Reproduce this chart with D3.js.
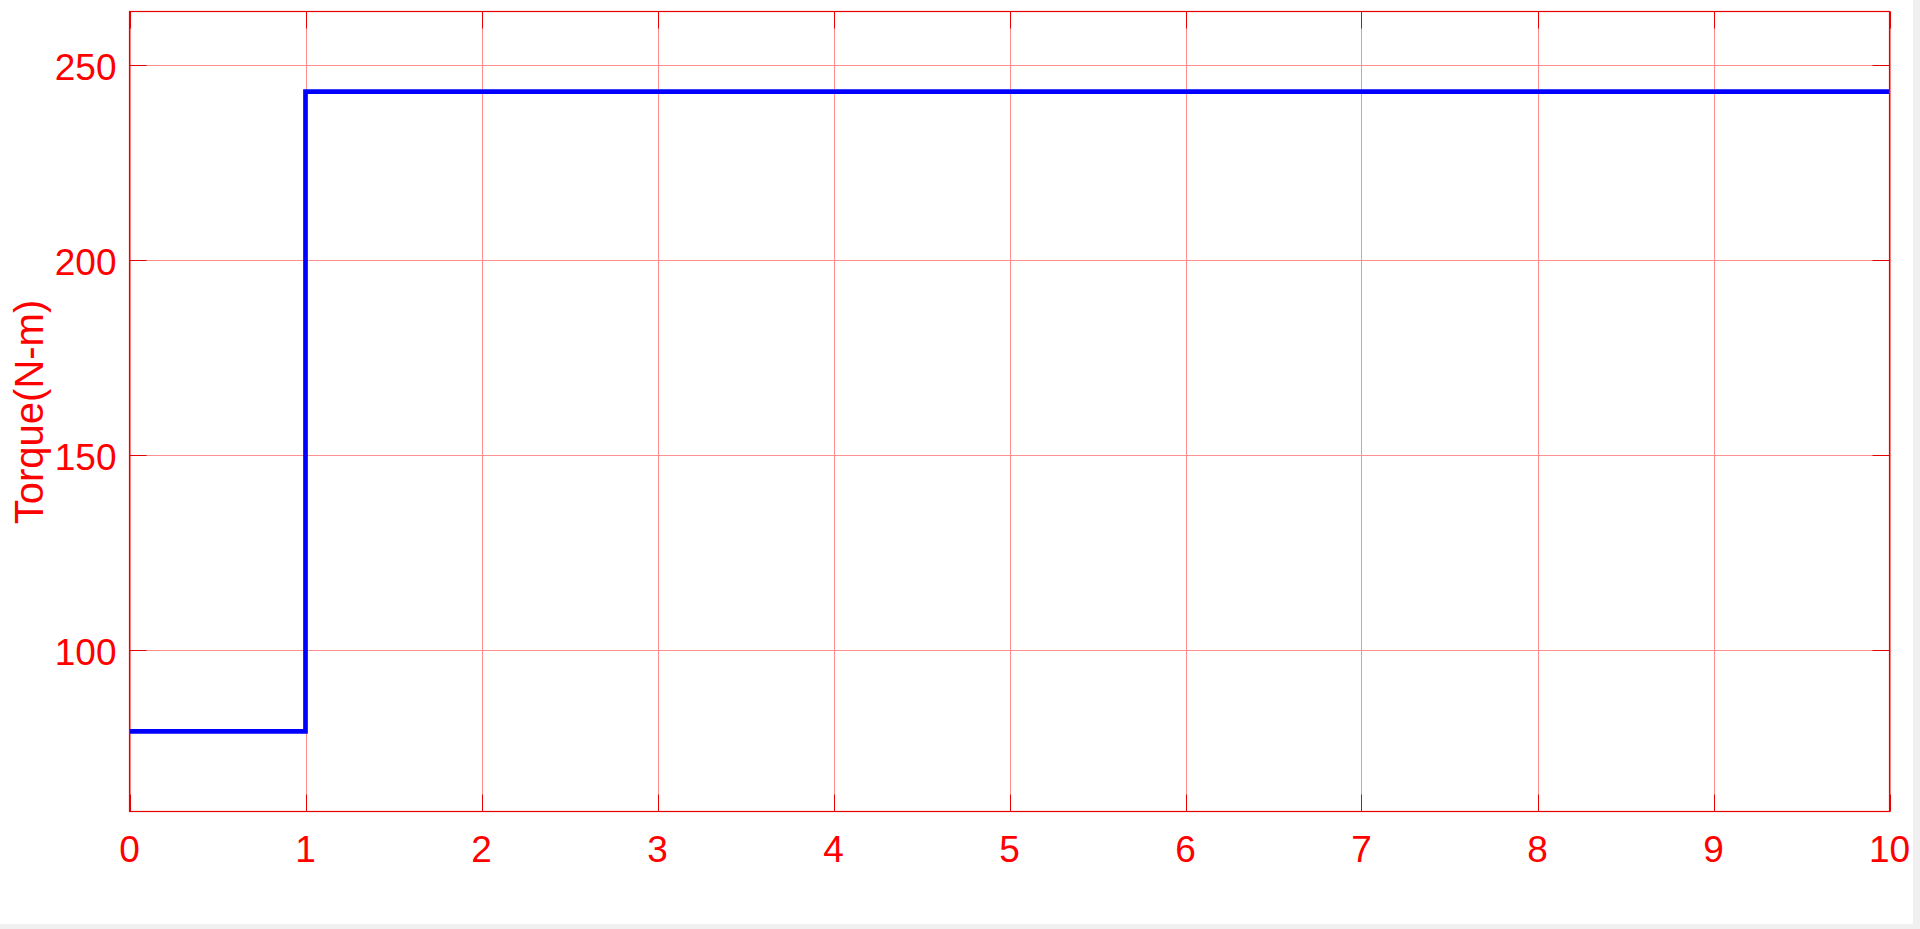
<!DOCTYPE html>
<html>
<head>
<meta charset="utf-8">
<script src="https://cdn.jsdelivr.net/npm/d3@7"></script>
<style>
html,body{margin:0;padding:0;background:#f0f0f0;overflow:hidden;}
svg{display:block;}
</style>
</head>
<body>
<svg id="chart" width="1920" height="929"></svg>
<script>
const timeValues = [0, 1, 1, 10];
const torqueValues = [79.2, 79.2, 243.1, 243.1];
const xTicks = [0,1,2,3,4,5,6,7,8,9,10];
const yTicks = [100,150,200,250];
const xDomain = [0, 10];
const yDomain = [58.7, 263.6];
const yLabel = "Torque(N-m)";

const svg = d3.select("#chart");
svg.append("rect").attr("x",0).attr("y",0).attr("width",1913).attr("height",924).attr("fill","#ffffff");

const L=129.5, R=1889.5, T=11.5, B=811.5;
const x = d3.scaleLinear().domain(xDomain).range([L,R]);
const y = d3.scaleLinear().domain(yDomain).range([B,T]);

const grid = svg.append("g");
grid.selectAll(".vg").data(xTicks).join("line")
  .attr("x1",d=>Math.round(x(d))+0.5).attr("x2",d=>Math.round(x(d))+0.5)
  .attr("y1",T).attr("y2",B).attr("stroke","#ff9090").attr("stroke-width",1);
grid.selectAll(".hg").data(yTicks).join("line")
  .attr("y1",d=>Math.round(y(d))+0.5).attr("y2",d=>Math.round(y(d))+0.5)
  .attr("x1",L).attr("x2",R).attr("stroke","#ff9090").attr("stroke-width",1);

// ticks (inside, on all four sides)
const tl = 17;
const tg = svg.append("g").attr("stroke","#e60000").attr("stroke-width",1);
xTicks.forEach(d=>{
  const xx=Math.round(x(d))+0.5;
  tg.append("line").attr("x1",xx).attr("x2",xx).attr("y1",B).attr("y2",B-tl);
  tg.append("line").attr("x1",xx).attr("x2",xx).attr("y1",T).attr("y2",T+tl);
});
yTicks.forEach(d=>{
  const yy=Math.round(y(d))+0.5;
  tg.append("line").attr("y1",yy).attr("y2",yy).attr("x1",L).attr("x2",L+tl);
  tg.append("line").attr("y1",yy).attr("y2",yy).attr("x1",R).attr("x2",R-tl);
});

// data line
const line = d3.line().x(d=>x(d[0])).y(d=>y(d[1]));
svg.append("path").datum(timeValues.map((t,i)=>[t,torqueValues[i]]))
  .attr("d",line).attr("fill","none").attr("stroke","#0000ff")
  .attr("stroke-width",4.7).attr("stroke-linejoin","miter");

// box
svg.append("rect").attr("x",L).attr("y",T).attr("width",R-L).attr("height",B-T)
  .attr("fill","none").attr("stroke","#e60000").attr("stroke-width",1.2);

// tick labels
const font = "'Liberation Sans', Arial, sans-serif";
svg.append("g").selectAll("text").data(xTicks).join("text")
  .attr("x",d=>x(d)).attr("y",861.5).attr("text-anchor","middle")
  .attr("font-family",font).attr("font-size",37).attr("fill","#ff0000").text(d=>d);
svg.append("g").selectAll("text").data(yTicks).join("text")
  .attr("x",116.5).attr("y",d=>y(d)+15).attr("text-anchor","end")
  .attr("font-family",font).attr("font-size",37).attr("fill","#ff0000").text(d=>d);

svg.append("text").attr("transform","translate(43,412) rotate(-90)")
  .attr("text-anchor","middle").attr("font-family",font).attr("font-size",40)
  .attr("fill","#ff0000").text(yLabel);
</script>
</body>
</html>
